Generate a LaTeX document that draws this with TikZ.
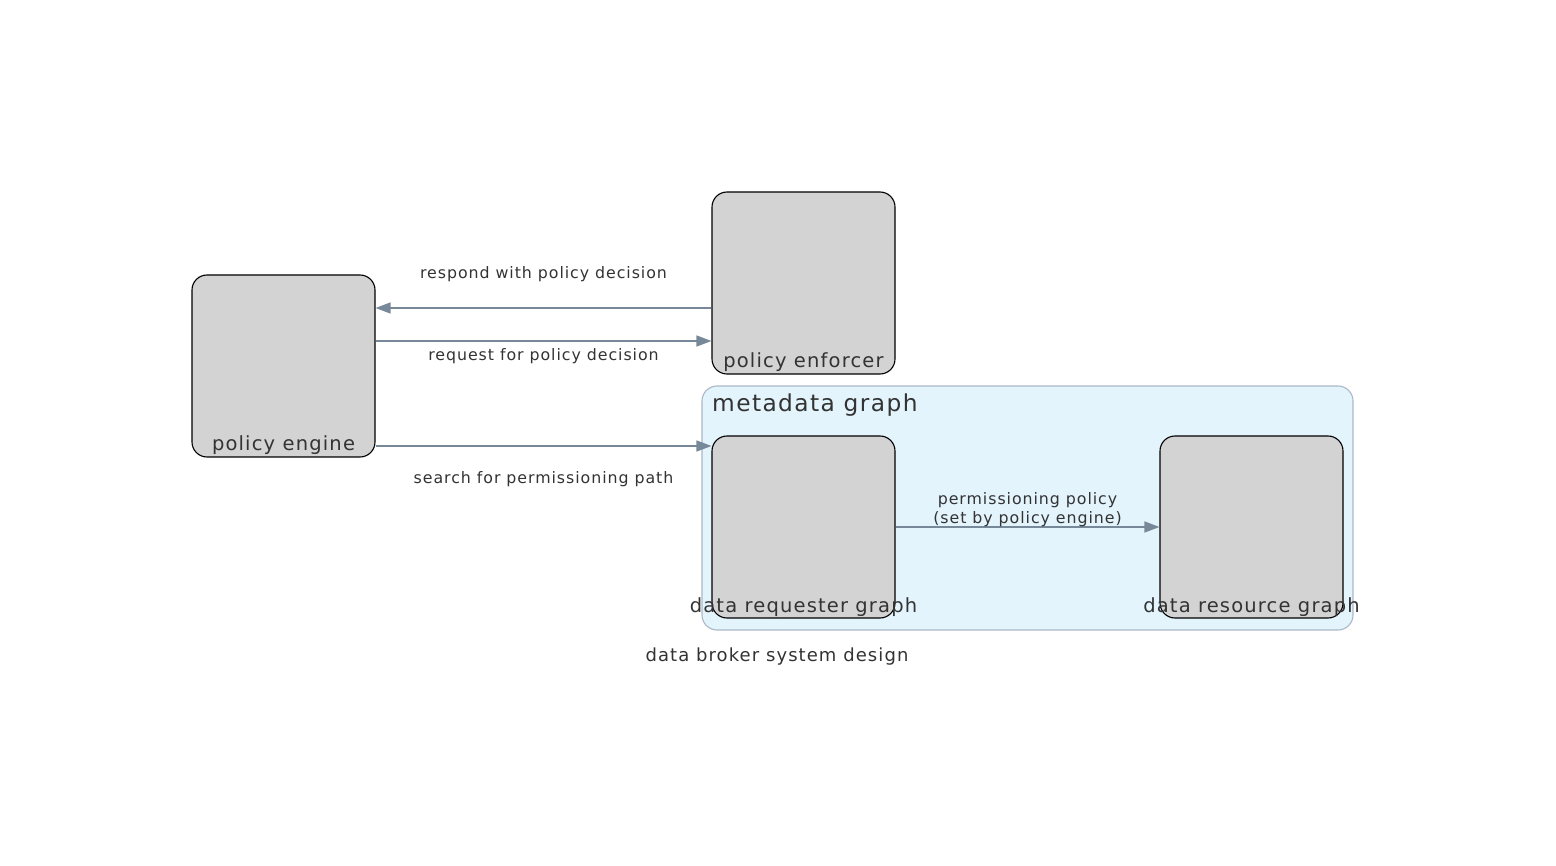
\documentclass[tikz,border=0pt]{standalone}
\usepackage{fontspec}
\setmainfont{DejaVu Sans}[LetterSpace=6]
\usetikzlibrary{arrows.meta, positioning}
\definecolor{edgegray}{RGB}{119,136,153}
\definecolor{boxgray}{RGB}{211,211,211}
\definecolor{txtgray}{RGB}{51,51,51}
\definecolor{clusterfill}{RGB}{227,244,252}
\definecolor{clusterline}{RGB}{170,184,198}
\tikzset{
    every node/.style={text=txtgray},
    box/.style={draw=black, fill=boxgray, rounded corners=15pt, minimum width=183pt, minimum height=182pt, line width=1.1pt, inner sep=0pt},
    boxlabel/.style={anchor=base, inner sep=0pt, font=\fontsize{19.5}{23}\selectfont},
    flow/.style={draw=edgegray, line width=1.3pt, -{Triangle[length=15pt, width=11pt]}},
    flowlabel/.style={midway, anchor=base, inner sep=0pt, align=center, font=\fontsize{15.8}{19}\selectfont},
    cluster/.style={draw=clusterline, fill=clusterfill, rounded corners=15pt, minimum width=651pt, minimum height=244pt, line width=1.1pt},
}

\begin{document}
\begin{tikzpicture}[x=1pt, y=-1pt]
    \useasboundingbox (0,0) rectangle (1556,866);

    % metadata graph group
    \node[cluster] (meta) at (1027.5,508) {};
    \node[anchor=base west, inner sep=0pt, font=\fontsize{23.3}{27}\selectfont] (metalbl) at (712,412) {metadata graph};

    % boxes
    \node[box] (engine) at (283.5,366) {};
    \node[box] (enforcer) at (803.5,283) {};
    \node[box] (requester) at (803.5,527) {};
    \node[box] (resource) at (1251.5,527) {};

    \node[boxlabel] (enginelbl) at ([yshift=7pt]engine.south) {policy engine};
    \node[boxlabel] (enforcerlbl) at ([yshift=7pt]enforcer.south) {policy enforcer};
    \node[boxlabel] (requesterlbl) at ([yshift=6pt]requester.south) {data requester graph};
    \node[boxlabel] (resourcelbl) at ([yshift=6pt]resource.south) {data resource graph};

    % edges
    \draw[flow] ([yshift=-25pt]enforcer.west) -- node[flowlabel, yshift=29pt] {respond with policy decision} ([yshift=58pt]engine.east);
    \draw[flow] ([yshift=25pt]engine.east) -- node[flowlabel, yshift=-20pt] {request for policy decision} ([yshift=-58pt]enforcer.west);
    \draw[flow] ([yshift=-80pt]engine.east) -- node[flowlabel, yshift=-37pt] {search for permissioning path} ([yshift=81pt]requester.west);
    \draw[flow] (requester.east) -- node[flowlabel, yshift=4pt] {permissioning policy\\(set by policy engine)} (resource.west);

    \node[anchor=base, inner sep=0pt, font=\fontsize{18}{22}\selectfont] (title) at (777,661) {data broker system design};
\end{tikzpicture}
\end{document}
